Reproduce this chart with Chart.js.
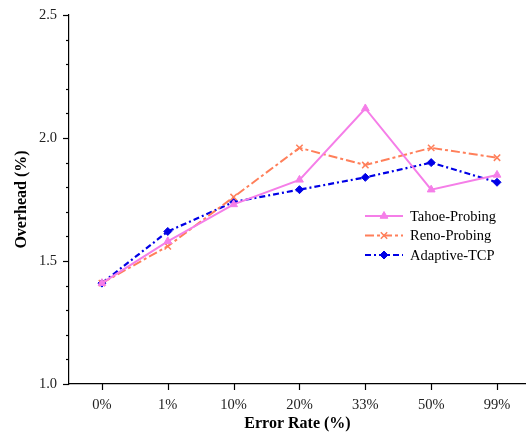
<!DOCTYPE html>
<html><head><meta charset="utf-8">
<script src="https://cdn.jsdelivr.net/npm/chart.js@4/dist/chart.umd.min.js"></script>
<style>html,body{margin:0;padding:0;background:#fff}#wrap{width:526px;height:433px}</style>
</head><body><div id="wrap"><canvas id="c" width="526" height="433"></canvas></div>
<script>
const categories = ['0%','1%','10%','20%','33%','50%','99%'];
const tahoe = [1.41,1.58,1.73,1.83,2.12,1.79,1.85];
const reno = [1.41,1.56,1.76,1.96,1.89,1.96,1.92];
const adaptive = [1.41,1.62,1.74,1.79,1.84,1.90,1.82];
const seriesNames = ['Tahoe-Probing','Reno-Probing','Adaptive-TCP'];
const yTicks = [1.0,1.5,2.0,2.5];

const FONT = "'Liberation Serif','Times New Roman',serif";
const toPts = arr => arr.map((v,i)=>({x:i,y:v}));

const ticksPlugin = {
  id:'ticksPlugin',
  afterDraw(chart){
    const ctx = chart.ctx, ys = chart.scales.y, xs = chart.scales.x, ca = chart.chartArea;
    ctx.save();
    ctx.strokeStyle='#000'; ctx.lineWidth=1.2;
    for(let k=0;k<=15;k++){
      const v = 1.0 + k*0.1;
      const py = Math.round(ys.getPixelForValue(v))+0.5;
      const major = (k%5===0);
      ctx.beginPath(); ctx.moveTo(ca.left-(major?6:3),py); ctx.lineTo(ca.left,py); ctx.stroke();
    }
    categories.forEach((c,i)=>{
      const px = Math.round(xs.getPixelForValue(i))+0.5;
      ctx.beginPath(); ctx.moveTo(px,ca.bottom); ctx.lineTo(px,ca.bottom+6); ctx.stroke();
    });
    // legend
    const x0=365, x1=403, ys0=216, dy=19.5;
    chart.data.datasets.forEach((ds,i)=>{
      const yy = ys0 + i*dy;
      ctx.strokeStyle=ds.borderColor; ctx.lineWidth=ds.borderWidth;
      ctx.setLineDash(ds.borderDash||[]);
      ctx.beginPath(); ctx.moveTo(x0,yy); ctx.lineTo(x1,yy); ctx.stroke();
      ctx.setLineDash([]);
      ctx.fillStyle=ds.backgroundColor; ctx.strokeStyle=ds.borderColor; ctx.lineWidth=ds.pointBorderWidth||1.5;
      Chart.helpers.drawPoint(ctx,{pointStyle:ds.pointStyle,radius:ds.pointRadius,borderWidth:ds.pointBorderWidth||1.5,rotation:0},(x0+x1)/2,yy);
      ctx.fillStyle='#000'; ctx.font="14.5px "+FONT; ctx.textBaseline='middle'; ctx.textAlign='left';
      ctx.fillText(ds.label,410,yy+1);
    });
    ctx.restore();
  }
};

new Chart(document.getElementById('c'),{
  type:'line',
  data:{datasets:[
    {label:seriesNames[0],data:toPts(tahoe),borderColor:'#f57ee8',backgroundColor:'#f57ee8',borderWidth:2,pointStyle:'triangle',pointRadius:4.5,pointBorderWidth:1,tension:0},
    {label:seriesNames[1],data:toPts(reno),borderColor:'#ff7f5a',backgroundColor:'#ff7f5a',borderWidth:2,borderDash:[9,3,3,3],pointStyle:'crossRot',pointRadius:4.5,pointBorderWidth:1.5,tension:0},
    {label:seriesNames[2],data:toPts(adaptive),borderColor:'#0000e6',backgroundColor:'#0000e6',borderWidth:2.2,borderDash:[6,3,2,3],pointStyle:'rectRot',pointRadius:4,pointBorderWidth:1,tension:0}
  ]},
  options:{
    responsive:false, animation:false,
    layout:{autoPadding:false,padding:{top:15,right:0,left:0,bottom:0}},
    plugins:{legend:{display:false},tooltip:{enabled:false}},
    scales:{
      x:{type:'linear',min:-0.5,max:6.44,
        afterBuildTicks:s=>{s.ticks=categories.map((c,i)=>({value:i}));},
        afterFit:s=>{s.height=49;s.paddingLeft=0;s.paddingRight=0;},
        grid:{display:false},
        border:{display:true,color:'#000',width:1.2},
        ticks:{callback:v=>categories[v],font:{family:FONT,size:14.5},color:'#222',padding:4,maxRotation:0,autoSkip:false},
        title:{display:true,text:'Error Rate (%)',font:{family:FONT,size:16,weight:'bold'},color:'#000',padding:{top:0,bottom:0}}
      },
      y:{min:1.0,max:2.5,
        afterBuildTicks:s=>{s.ticks=yTicks.map(v=>({value:v}));},
        afterFit:s=>{s.width=69;s.paddingTop=0;s.paddingBottom=0;},
        grid:{display:false},
        border:{display:true,color:'#000',width:1.2},
        ticks:{callback:v=>v.toFixed(1),font:{family:FONT,size:14.5},color:'#222',padding:4},
        title:{display:true,text:'Overhead (%)',font:{family:FONT,size:16,weight:'bold'},color:'#000',padding:{top:12,bottom:0}}
      }
    }
  },
  plugins:[ticksPlugin]
});
</script></body></html>
